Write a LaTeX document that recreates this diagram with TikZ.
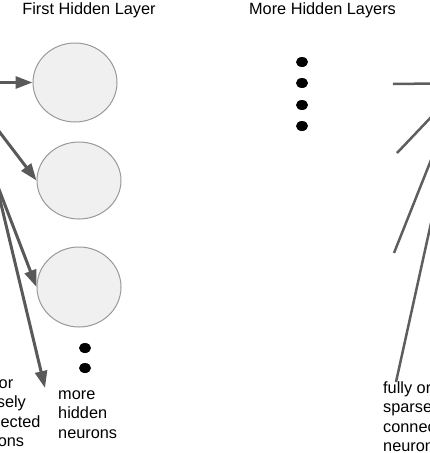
\documentclass[tikz,border=0pt]{standalone}
\usepackage{fontspec}
\setmainfont{Liberation Sans}
\usetikzlibrary{shapes.geometric,arrows.meta}
\definecolor{neuronfill}{HTML}{F0F0F0}
\definecolor{neuronline}{HTML}{999999}
\definecolor{arrowgray}{HTML}{595959}
\definecolor{linegray}{HTML}{5E5E5E}
\begin{document}
\begin{tikzpicture}[x=1pt,y=-1pt,
  neuron/.style={ellipse,draw=neuronline,fill=neuronfill,line width=1pt,inner sep=0pt,minimum width=84pt},
  bigdot/.style={ellipse,fill=black,inner sep=0pt,minimum width=12pt,minimum height=10pt},
  arr/.style={draw=arrowgray,line width=3pt,-{Triangle[length=17pt,width=12pt]}},
  conn/.style={draw=linegray,line width=2.5pt},
  lbl/.style={font=\fontsize{16.3}{19.5}\selectfont,inner sep=0pt},
  multi/.style={lbl,align=left,anchor=base west}]
\useasboundingbox (0,0) rectangle (430,453);
\clip (0,0) rectangle (430,453);
% titles
\node[lbl,anchor=base] (t1) at (89,14.5) {First Hidden Layer};
\node[lbl,anchor=base] (t2) at (322.5,14.5) {More Hidden Layers};
% neurons
\node[neuron,minimum height=79pt] (c1) at (75,82.5) {};
\node[neuron,minimum height=77pt] (c2) at (79,180.5) {};
\node[neuron,minimum height=80pt] (c3) at (79,287) {};
% dots
\node[bigdot] (d1) at (302,62) {};
\node[bigdot] (d2) at (302,83) {};
\node[bigdot] (d3) at (302,105) {};
\node[bigdot] (d4) at (302,126) {};
\node[bigdot] (e1) at (85,348) {};
\node[bigdot] (e2) at (85,368) {};
% left connectors
\coordinate (s1) at (-10,82.5);
\coordinate (s2) at (-10,119.5);
\coordinate (s3) at (-10,166);
\coordinate (s4) at (-10,158);
\coordinate (f4) at (45,388);
\draw[arr] (s1) -- (c1.west);
\draw[arr] (s2) -- (c2.west);
\draw[arr] (s3) -- (c3.west);
\draw[arr] (s4) -- (f4);
% right connectors
\coordinate (ra) at (393,84);
\coordinate (rA) at (435,83.5);
\coordinate (rb) at (397,153);
\coordinate (rB) at (435,113);
\coordinate (rc) at (394,253);
\coordinate (rC) at (435,150);
\coordinate (rd) at (396,382);
\coordinate (rD) at (435,205);
\draw[conn] (ra) -- (rA);
\draw[conn] (rb) -- (rB);
\draw[conn] (rc) -- (rC);
\draw[conn] (rd) -- (rD);
% texts (base anchor = baseline of the last line)
\node[multi] (lt) at (-35,446.5) {fully or\\sparsely\\connected\\neurons};
\node[multi] (mt) at (58,438) {more\\hidden\\neurons};
\node[multi] (rt) at (383,451.5) {fully or\\sparsely\\connected\\neurons};
\end{tikzpicture}
\end{document}
